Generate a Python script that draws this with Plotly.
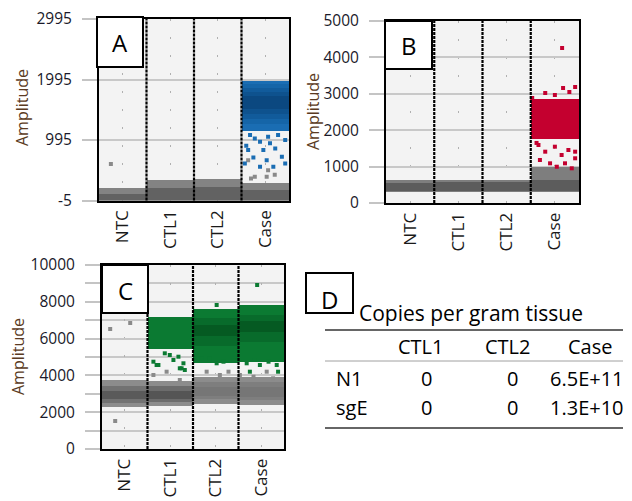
import plotly.graph_objects as go

# The page body has an 8px default margin; lay out in window pixels and shift.
WIN_W, WIN_H, OFF = 632, 501, 8
W, H = WIN_W - OFF, WIN_H - OFF

# ---------------- data ----------------
wells = ["NTC", "CTL1", "CTL2", "Case"]
well_pos = [0, 1, 2, 3]

# Panel A: droplet cluster amplitude ranges per well (outer -> dense core)
A_neg_lo = [-5, -5, -5, -5]
A_neg_hi = [195, 330, 345, 290]
A_neg_core_hi = [110, 200, 210, 170]
A_pos_levels = [  # (low, high) for the Case well, from sparse edge to dense core
    (1150, 1975), (1260, 1915), (1350, 1850), (1430, 1785), (1500, 1720)]
A_rain_pos_x = [2.68, 2.78, 2.89, 3.06, 3.27, 3.42, 2.64, 2.96, 3.21, 2.75, 3.03, 3.35, 2.57, 2.89, 3.17, 3.42, 3.10, 2.60]
A_rain_pos_y = [1076, 1021, 965, 1048, 1076, 993, 828, 828, 856, 707, 662, 717, 607, 551, 551, 607, 940, 900]
A_rain_neg_x = [-0.25, 2.64, 3.06, 3.03, 2.78, 2.70, 3.20]
A_rain_neg_y = [600, 662, 496, 386, 386, 360, 420]

# Panel B
B_neg_lo = [300, 300, 300, 300]
B_neg_hi = [630, 640, 640, 1000]
B_neg_core_lo = [340, 340, 340, 330]
B_neg_core_hi = [560, 570, 570, 640]
B_pos_lo = [None, None, None, 1750]
B_pos_hi = [None, None, None, 2850]
B_rain_pos_x = [2.66, 2.80, 3.00, 3.14, 3.28, 3.42, 2.69, 2.90, 3.21, 3.04, 3.35, 3.42,
                3.15, 3.17, 3.42, 2.80, 3.00, 2.53, 3.30, 2.58, 2.62]
B_rain_pos_y = [1593, 1410, 1547, 1319, 1456, 1228, 1181, 1090, 1090, 997, 953, 1410,
                4258, 3160, 3187, 3022, 2967, 2885, 3050, 2700, 1650]

# Panel C
C_neg_lo = [2280, 2350, 2450, 2400]
C_neg_hi = [3750, 3700, 3900, 3900]
C_neg_mid_lo = [2500, 2550, 2700, 2650]
C_neg_mid_hi = [3450, 3400, 3650, 3650]
C_neg_core_lo = [2700, 2700, 2900, 2850]
C_neg_core_hi = [3150, 3150, 3350, 3350]
C_pos_lo = [None, 5450, 4650, 4750]
C_pos_hi = [None, 7200, 7600, 7850]
C_pos_mid_lo = [None, None, 5600, 5800]
C_pos_mid_hi = [None, None, 7100, 7300]
C_pos_core_lo = [None, None, 6150, 6350]
C_pos_core_hi = [None, None, 6750, 6950]
C_rain_pos_x = [0.63, 0.70, 0.88, 0.99, 1.07, 1.18, 1.25, 1.32, 1.29, 1.69, 1.87, 2.02, 2.17, 2.39,
                2.68, 2.86, 2.97, 3.16, 3.34, 2.75, 3.37, 0.74, 1.21, 2.91, 2.02]
C_rain_pos_y = [4745, 4565, 5200, 5109, 4837, 5016, 4386, 4293, 4658, 4929, 4929, 4658, 4745, 4837,
                4658, 4837, 4565, 4745, 4565, 4201, 4201, 4565, 4386, 8913, 7826]
C_rain_neg_x = [0.63, 0.92, 1.21, 1.80, 2.09, 2.28, 2.53, 2.83, 3.12, 3.26, -0.32, 0.12, -0.21]
C_rain_neg_y = [4022, 4201, 3750, 4201, 4022, 4201, 4022, 3929, 4201, 3842, 6522, 6848, 1522]

# Panel D table
table_title = "Copies per gram tissue"
table_cols = ["CTL1", "CTL2", "Case"]
table_rows = ["N1", "sgE"]
table_vals = [["0", "0", "6.5E+11"], ["0", "0", "1.3E+10"]]

# ---------------- helpers ----------------
FONT = "Open Sans"


def px_x(p):
    return (p - OFF) / W


def px_y(p):
    return 1 - (p - OFF) / H


fig = go.Figure()


def band(ax, lo, hi, color, xs_in=None):
    xs_in = well_pos if xs_in is None else xs_in
    xs, bases, hs = [], [], []
    for x, l, h in zip(xs_in, lo, hi):
        if l is None or h is None:
            continue
        xs.append(x)
        bases.append(l)
        hs.append(h - l)
    fig.add_trace(go.Bar(x=xs, y=hs, base=bases, width=1.0, marker=dict(color=color, line=dict(width=0)),
                         xaxis="x" + ax, yaxis="y" + ax, showlegend=False, hoverinfo="skip"))


def rain(ax, xs, ys, color, size=4):
    fig.add_trace(go.Scatter(x=xs, y=ys, mode="markers",
                             marker=dict(symbol="square", size=size, color=color, line=dict(width=0)),
                             xaxis="x" + ax, yaxis="y" + ax, showlegend=False, hoverinfo="skip"))


# Panel A
band("", A_neg_lo, A_neg_hi, "#838383")
band("", A_neg_lo, A_neg_core_hi, "#626262")
blue_shades = ["#1a6db3", "#1565a8", "#115b9b", "#0e528e", "#0b4880"]
for (lo, hi), col in zip(A_pos_levels, blue_shades):
    band("", [lo], [hi], col, xs_in=[3])
rain("", A_rain_neg_x, A_rain_neg_y, "#8a8a8a")
rain("", A_rain_pos_x, A_rain_pos_y, "#1a6db3")

# Panel B
band("2", B_neg_lo, B_neg_hi, "#7e7e7e")
band("2", B_neg_core_lo, B_neg_core_hi, "#5c5c5c")
band("2", B_pos_lo, B_pos_hi, "#c4002f")
rain("2", B_rain_pos_x, B_rain_pos_y, "#c4002f")

# Panel C
band("3", C_neg_lo, C_neg_hi, "#8c8c8c")
band("3", C_neg_mid_lo, C_neg_mid_hi, ["#727272", "#6c6c6c", "#7e7e7e", "#7e7e7e"])
band("3", C_neg_core_lo, C_neg_core_hi, ["#5a5a5a", "#555555", "#767676", "#767676"])
band("3", C_pos_lo, C_pos_hi, "#0b7a32")
band("3", C_pos_mid_lo, C_pos_mid_hi, "#086b2b")
band("3", C_pos_core_lo, C_pos_core_hi, "#055a22")
rain("3", C_rain_neg_x, C_rain_neg_y, "#8a8a8a")
rain("3", C_rain_pos_x, C_rain_pos_y, "#0b7a32")

# ---------------- axes ----------------
panels = {
    "": dict(x=(99, 289), y=(19, 200.5), yrange=[-5.01, 2995.01], ytick=[-5, 995, 1995, 2995], minor=None),
    "2": dict(x=(386, 579), y=(21, 203), yrange=[-0.01, 5000.01], ytick=[0, 1000, 2000, 3000, 4000, 5000], minor=None),
    "3": dict(x=(102, 284), y=(265, 449), yrange=[-0.01, 10000.01], ytick=[0, 2000, 4000, 6000, 8000, 10000], minor=1000),
}

layout = dict(
    width=W, height=H, autosize=False,
    margin=dict(l=0, r=0, t=0, b=0),
    paper_bgcolor="white", plot_bgcolor="#f3f3f3",
    barmode="overlay", bargap=0,
    showlegend=False,
)

for k, p in panels.items():
    xa = dict(
        domain=[px_x(p["x"][0]), px_x(p["x"][1])], anchor="y" + k,
        range=[-0.5, 3.5], tickmode="array", tickvals=well_pos, ticktext=wells,
        tickangle=-90, tickfont=dict(family=FONT, size=17, color="#1a1a1a"),
        showgrid=True, gridcolor="#b0b0b0", gridwidth=1, griddash="2px,16px",
        showline=True, mirror=True, linecolor="black", linewidth=2,
        ticks="", zeroline=False, automargin=False, fixedrange=True,
        ticklabelstandoff=1, ticklabeloverflow="allow",
    )
    ya = dict(
        domain=[px_y(p["y"][1]), px_y(p["y"][0])], anchor="x" + k,
        range=p["yrange"], tickmode="array", tickvals=p["ytick"],
        ticktext=[str(v) for v in p["ytick"]],
        tickfont=dict(family=FONT, size=15.5, color="#1a1a2a"),
        ticks="outside", ticklen=15, tickcolor="#c4c4c4", tickwidth=1.5,
        showgrid=True, gridcolor="#c8c8c8", gridwidth=1.5,
        showline=True, mirror=True, linecolor="black", linewidth=2,
        zeroline=False, automargin=False, fixedrange=True,
        ticklabelstandoff=7, ticklabeloverflow="allow",
    )
    if p["minor"]:
        ya["minor"] = dict(dtick=p["minor"], showgrid=True, gridcolor="#c8c8c8", gridwidth=1.5,
                           ticks="outside", ticklen=15, tickcolor="#c4c4c4", tickwidth=1.5)
    layout["xaxis" + k] = xa
    layout["yaxis" + k] = ya

fig.update_layout(**layout)

shapes = []
for k in panels:
    for xv in [0.5, 1.5, 2.5]:
        shapes.append(dict(type="line", xref="x" + k, yref=("y" + k) + " domain", x0=xv, x1=xv, y0=0, y1=1,
                           line=dict(color="black", width=2.2, dash="3px,1px"), layer="above"))

boxes = {"A": (97, 17, 143, 67), "B": (385, 21, 432, 69), "C": (102, 265, 148, 313), "D": (306, 273, 353, 313)}
annotations = []
for letter, (x0, y0, x1, y1) in boxes.items():
    shapes.append(dict(type="rect", xref="paper", yref="paper", x0=px_x(x0), x1=px_x(x1), y0=px_y(y1), y1=px_y(y0),
                       fillcolor="white", line=dict(color="black", width=2), layer="above"))
    cy = (y0 + y1) / 2 + (6 if letter == "D" else 1)
    annotations.append(dict(text=letter, xref="paper", yref="paper", x=px_x((x0 + x1) / 2), y=px_y(cy),
                            showarrow=False, font=dict(family=FONT, size=24, color="black"),
                            xanchor="center", yanchor="middle"))

for (cx, cy) in [(22, 108), (313, 112), (18, 357)]:
    annotations.append(dict(text="Amplitude", xref="paper", yref="paper", x=px_x(cx), y=px_y(cy),
                            textangle=-90, showarrow=False, font=dict(family=FONT, size=16, color="#5a3a22"),
                            xanchor="center", yanchor="middle"))

TF = dict(family=FONT, size=20, color="black")
annotations.append(dict(text=table_title, xref="paper", yref="paper", x=px_x(471), y=px_y(313),
                        showarrow=False, font=dict(family=FONT, size=21, color="black"),
                        xanchor="center", yanchor="middle"))
col_x = [421, 508, 590]
for cx, c in zip(col_x, table_cols):
    annotations.append(dict(text=c, xref="paper", yref="paper", x=px_x(cx), y=px_y(346),
                            showarrow=False, font=TF, xanchor="center", yanchor="middle"))
row_y = [378, 407]
val_x = [427, 512, 626]
for ry, rname, vals in zip(row_y, table_rows, table_vals):
    annotations.append(dict(text=rname, xref="paper", yref="paper", x=px_x(334), y=px_y(ry),
                            showarrow=False, font=TF, xanchor="left", yanchor="middle"))
    for j, (vx, v) in enumerate(zip(val_x, vals)):
        annotations.append(dict(text=v, xref="paper", yref="paper", x=px_x(vx), y=px_y(ry),
                                showarrow=False, font=TF, xanchor="right" if j == 2 else "center",
                                yanchor="middle"))
for ly, lw, lc in [(330, 1.5, "#333333"), (361, 1, "#a0a0a0"), (428, 1.5, "#333333")]:
    shapes.append(dict(type="line", xref="paper", yref="paper", x0=px_x(325), x1=px_x(623),
                       y0=px_y(ly), y1=px_y(ly), line=dict(color=lc, width=lw)))

fig.update_layout(shapes=shapes, annotations=annotations)
fig.write_html("out.html")
